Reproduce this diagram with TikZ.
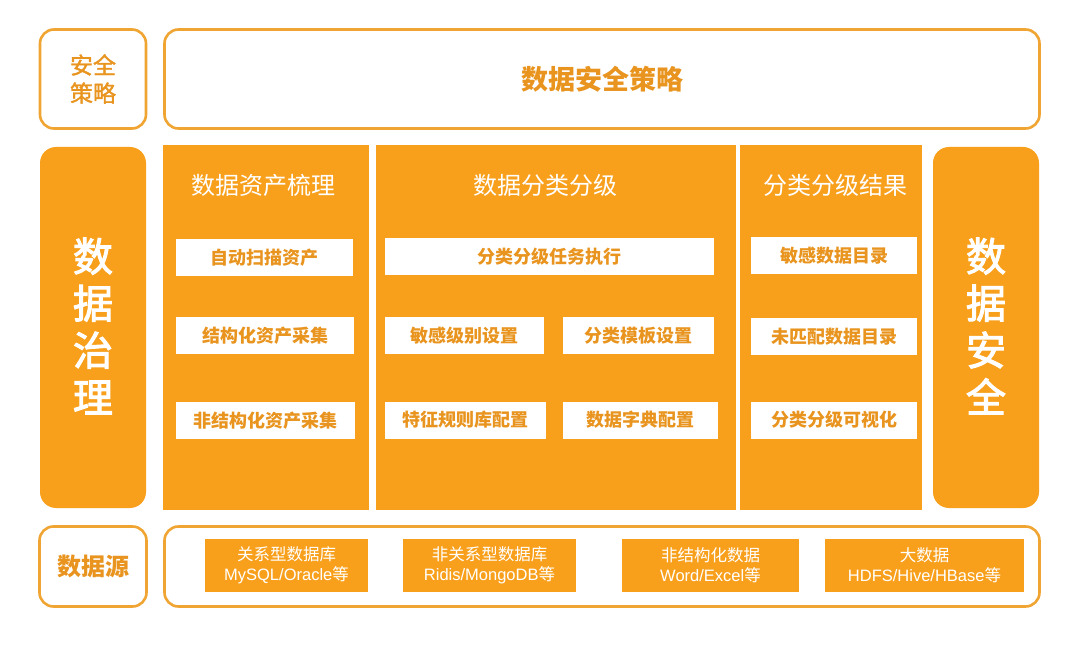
\documentclass[tikz,border=0pt]{standalone}
\usepackage{fontspec}
\setmainfont{Noto Sans CJK SC}
\newfontfamily\latf{Liberation Sans}
\newfontfamily\medf[FakeBold=1.5]{Noto Sans CJK SC}
\newfontfamily\bigf[FakeBold=2.6]{Noto Sans CJK SC}
\definecolor{og}{RGB}{248,160,28}
\definecolor{ogline}{RGB}{240,165,50}
\definecolor{ogtxt}{RGB}{232,148,30}
\begin{document}
\begin{tikzpicture}[x=1pt,y=-1pt,
  outline/.style={draw=ogline, line width=2.6pt, rounded corners=14pt, fill=white, inner sep=0pt},
  panel/.style={fill=og, inner sep=0pt},
  rpanel/.style={fill=og, inner sep=0pt, rounded corners=16pt},
  wbox/.style={fill=white, text=ogtxt, inner sep=0pt, minimum height=37pt, font=\fontsize{18}{18}\selectfont\bfseries},
  sbox/.style={fill=og, text=white, inner sep=0pt, minimum height=53pt, align=center, font=\fontsize{16.5}{20}\selectfont},
  coltitle/.style={text=white, inner sep=0pt, font=\fontsize{24}{24}\selectfont},
  bigv/.style={text=white, inner sep=0pt, align=center, font=\fontsize{40}{47}\selectfont\bigf}
]
\useasboundingbox (0,0) rectangle (1080,647);
\fill[white] (0,0) rectangle (1080,647);
% top row
\node[outline, minimum width=106pt, minimum height=99pt, align=center, text=ogtxt, font=\fontsize{23}{28}\selectfont\medf] (aqcl) at (93,79) {安全\\策略};
\node[outline, minimum width=875pt, minimum height=99pt, text=ogtxt, font=\fontsize{27}{27}\selectfont\bfseries] (sjaqcl) at (602,79) {数据安全策略};
% middle row panels
\node[rpanel, minimum width=106pt, minimum height=361pt] (zl) at (93,327.5) {};
\node[bigv] (zltxt) at (93,326) {数\\据\\治\\理};
\node[panel, minimum width=206pt, minimum height=365pt] (c1) at (266,327.5) {};
\node[panel, minimum width=360pt, minimum height=365pt] (c2) at (556,327.5) {};
\node[panel, minimum width=182pt, minimum height=365pt] (c3) at (831,327.5) {};
\node[rpanel, minimum width=106pt, minimum height=361pt] (aq) at (986,327.5) {};
\node[bigv] (aqtxt) at (986,326) {数\\据\\安\\全};
% column titles
\node[coltitle] (t1) at (263,185) {数据资产梳理};
\node[coltitle] (t2) at (545,185) {数据分类分级};
\node[coltitle] (t3) at (835,185) {分类分级结果};
% column 1
\node[wbox, minimum width=177pt] (a1) at (264.5,257.5) {自动扫描资产};
\node[wbox, minimum width=178pt] (a2) at (265,336) {结构化资产采集};
\node[wbox, minimum width=179pt] (a3) at (265.5,420.5) {非结构化资产采集};
% column 2
\node[wbox, minimum width=329pt] (b1) at (549.5,256.5) {分类分级任务执行};
\node[wbox, minimum width=159pt] (b2) at (464.5,335.5) {敏感级别设置};
\node[wbox, minimum width=151pt] (b3) at (638.5,335.5) {分类模板设置};
\node[wbox, minimum width=161pt] (b4) at (465.5,420) {特征规则库配置};
\node[wbox, minimum width=155pt] (b5) at (640.5,420) {数据字典配置};
% column 3
\node[wbox, minimum width=166pt] (r1) at (834,256) {敏感数据目录};
\node[wbox, minimum width=166pt] (r2) at (834,336.5) {未匹配数据目录};
\node[wbox, minimum width=166pt] (r3) at (834,420) {分类分级可视化};
% bottom row
\node[outline, minimum width=107pt, minimum height=80pt, text=ogtxt, font=\fontsize{24}{24}\selectfont\bfseries] (sjy) at (93,566.5) {数据源};
\node[outline, minimum width=875pt, minimum height=80pt] (src) at (602,566.5) {};
\node[sbox, minimum width=163pt] (s1) at (286.5,565) {关系型数据库\\{\latf MySQL/Oracle}等};
\node[sbox, minimum width=173pt] (s2) at (489.5,565) {非关系型数据库\\{\latf Ridis/MongoDB}等};
\node[sbox, minimum width=177pt] (s3) at (710.5,565) {非结构化数据\\{\latf Word/Excel}等};
\node[sbox, minimum width=199pt] (s4) at (924.5,565) {大数据\\{\latf HDFS/Hive/HBase}等};
\end{tikzpicture}
\end{document}
